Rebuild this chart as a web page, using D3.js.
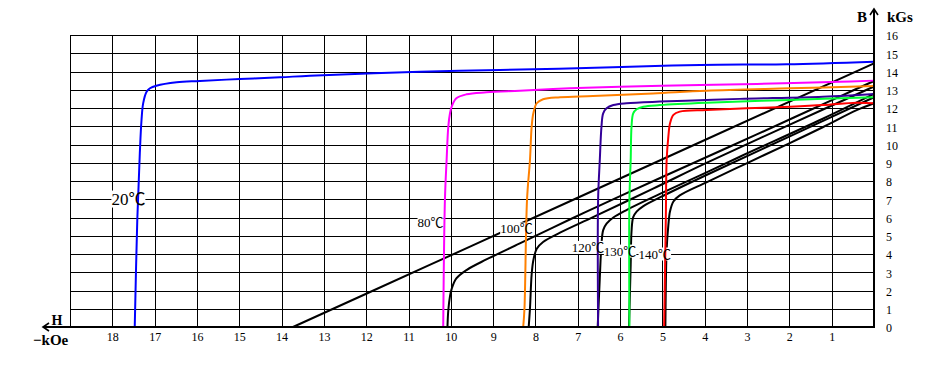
<!DOCTYPE html>
<html>
<head>
<meta charset="utf-8">
<script src="https://cdn.jsdelivr.net/npm/d3@7"></script>
<style>
  body { margin: 0; background: #fff; }
  svg { display: block; }
  .axis text { font-family: "Liberation Serif", serif; font-size: 12px; fill: #000; }
  .unit { font-family: "Liberation Serif", serif; font-weight: bold; font-size: 15px; }
  .temp-label { font-family: "Liberation Serif", "Noto Sans CJK SC", serif; fill: #000; }
</style>
</head>
<body>
<svg id="chart"></svg>
<script>
// Tick labels (H in kOe, measured leftwards; B in kGs)
const hTicks = [18, 17, 16, 15, 14, 13, 12, 11, 10, 9, 8, 7, 6, 5, 4, 3, 2, 1];
const bTicks = [0, 1, 2, 3, 4, 5, 6, 7, 8, 9, 10, 11, 12, 13, 14, 15, 16];

const temps = ['20℃', '80℃', '100℃', '120℃', '130℃', '140℃'];

// Intrinsic curves [H, B]
const intrinsic20 = [[17.47, 0], [17.41, 5.86], [17.35, 9.53], [17.31, 11.34], [17.27, 12.27], [17.19, 12.89],
  [17.11, 13.08], [16.96, 13.22], [16.48, 13.41], [15.93, 13.48], [14.99, 13.59], [14.04, 13.68],
  [13.33, 13.77], [10.73, 13.99], [8.84, 14.08], [6.17, 14.23], [4.11, 14.36], [2.06, 14.40], [0, 14.54]];
const intrinsic80 = [[10.18, 0], [10.14, 6.96], [10.10, 9.15], [10.06, 10.98], [10.02, 11.71], [9.98, 12.07],
  [9.87, 12.53], [9.63, 12.75], [9.16, 12.86], [8.37, 12.95], [7.19, 13.08], [6.0, 13.17], [4.11, 13.26],
  [2.77, 13.32], [0.80, 13.44], [0, 13.5]];
const intrinsic100 = [[8.29, 0], [8.26, 1.0], [8.20, 6.96], [8.13, 9.15], [8.09, 10.98], [8.05, 11.71], [7.97, 12.26],
  [7.82, 12.48], [7.42, 12.59], [6.64, 12.66], [5.22, 12.80], [3.96, 12.95], [1.99, 13.08], [0, 13.2]];
const intrinsic120 = [[6.52, 0], [6.52, 6.96], [6.48, 9.15], [6.44, 10.98], [6.40, 11.71], [6.32, 11.98], [6.16, 12.16],
  [5.85, 12.26], [5.06, 12.35], [4.11, 12.42], [3.17, 12.50], [1.21, 12.62], [0, 12.77]];
const intrinsic130 = [[5.78, 0], [5.78, 6.96], [5.75, 9.15], [5.73, 10.98], [5.69, 11.71], [5.61, 11.93], [5.45, 12.07],
  [5.06, 12.16], [3.96, 12.29], [1.99, 12.44], [0, 12.59]];
const intrinsic140 = [[4.96, 0], [4.92, 5.86], [4.90, 9.15], [4.86, 10.43], [4.82, 11.16], [4.74, 11.62], [4.59, 11.80],
  [3.96, 11.89], [3.01, 11.98], [1.99, 12.07], [1.20, 12.16], [0.41, 12.29], [0, 12.26]];

// Normal (B) curves [H, B]
const normal20 = [[13.73, 0], [10.5, 3.40], [7.12, 6.96], [0, 14.45]];
const normal80 = [[10.08, 0], [10.06, 0.92], [10.02, 1.69], [9.98, 2.09], [9.87, 2.66], [9.63, 3.12], [9.16, 3.70],
  [8.37, 4.58], [7.19, 5.89], [6.0, 7.17], [4.11, 9.15], [2.77, 10.55], [0.80, 12.64], [0, 13.48]];
const normal100 = [[8.16, 0], [8.13, 1.02], [8.09, 2.89], [8.05, 3.66], [7.97, 4.29], [7.82, 4.66], [7.42, 5.17],
  [6.64, 6.02], [5.22, 7.58], [3.96, 8.99], [1.99, 11.09], [0, 13.18]];
const normal120 = [[6.53, 0], [6.48, 2.67], [6.44, 4.54], [6.40, 5.31], [6.32, 5.66], [6.16, 6.0], [5.85, 6.41],
  [5.06, 7.29], [4.11, 8.31], [3.17, 9.33], [1.21, 11.41], [0, 12.77]];
const normal130 = [[5.79, 0], [5.75, 3.40], [5.73, 5.25], [5.69, 6.02], [5.61, 6.32], [5.45, 6.62], [5.06, 7.10],
  [3.96, 8.33], [1.99, 10.45], [0, 12.59]];
const normal140 = [[4.93, 0], [4.90, 4.25], [4.86, 5.57], [4.82, 6.34], [4.74, 6.88], [4.59, 7.21], [3.96, 7.93],
  [3.01, 8.97], [1.99, 10.08], [1.20, 10.96], [0.41, 11.88], [0, 12.26]];

// Where each temperature label sits, in data units [H, B]
const labelAnchors = [[17.62, 7.01], [10.48, 5.73], [8.45, 5.37], [6.76, 4.36], [6.0, 4.16], [5.18, 4.0]];

class DemagChart {

    constructor(_config) {
        this.config = {
            parentElement: _config.parentElement,
            containerWidth: _config.containerWidth || 950,
            containerHeight: _config.containerHeight || 378,
            plot: _config.plot || {left: 70, right: 874, top: 35, bottom: 327},
            colors: ['#0000ff', '#ff00ff', '#ff8000', '#330099', '#00ff33', '#ff0000'],
            labelSizes: [17, 13, 13, 13, 13, 13]
        };
        this.intrinsic = [intrinsic20, intrinsic80, intrinsic100, intrinsic120, intrinsic130, intrinsic140];
        this.normal = [normal20, normal80, normal100, normal120, normal130, normal140];
        this.initVis();
    }

    initVis() {
        let vis = this;
        const p = vis.config.plot;

        vis.xScale = d3.scaleLinear().domain([19, 0]).range([p.left, p.right]);
        vis.yScale = d3.scaleLinear().domain([0, 16]).range([p.bottom, p.top]);

        vis.svg = d3.select(vis.config.parentElement)
            .attr('width', vis.config.containerWidth)
            .attr('height', vis.config.containerHeight);

        vis.svg.append('rect')
            .attr('width', vis.config.containerWidth)
            .attr('height', vis.config.containerHeight)
            .attr('fill', '#fff');

        vis.gridG = vis.svg.append('g').attr('class', 'grid');
        vis.normalG = vis.svg.append('g');
        vis.labelBgG = vis.svg.append('g');
        vis.intrinsicG = vis.svg.append('g');
        vis.frameG = vis.svg.append('g');
        vis.labelG = vis.svg.append('g');

        vis.line = d3.line()
            .x(d => vis.xScale(d[0]))
            .y(d => vis.yScale(d[1]))
            .curve(d3.curveCatmullRom.alpha(0.5));

        vis.renderVis();
    }

    renderVis() {
        let vis = this;
        const p = vis.config.plot;

        // grid
        vis.gridG.selectAll('.vline')
            .data(hTicks.concat([19]))
            .join('line')
            .attr('class', 'vline')
            .attr('x1', d => Math.round(vis.xScale(d)) + 0.5)
            .attr('x2', d => Math.round(vis.xScale(d)) + 0.5)
            .attr('y1', p.top)
            .attr('y2', p.bottom)
            .attr('stroke', '#000')
            .attr('stroke-width', 1);

        vis.gridG.selectAll('.hline')
            .data(bTicks.slice(1))
            .join('line')
            .attr('class', 'hline')
            .attr('x1', p.left)
            .attr('x2', p.right)
            .attr('y1', d => Math.round(vis.yScale(d)) + 0.5)
            .attr('y2', d => Math.round(vis.yScale(d)) + 0.5)
            .attr('stroke', '#000')
            .attr('stroke-width', 1);

        // normal curves
        vis.normalG.selectAll('path')
            .data(vis.normal)
            .join('path')
            .attr('d', vis.line)
            .attr('fill', 'none')
            .attr('stroke', '#000')
            .attr('stroke-width', 2);

        // label text first so the white boxes can be sized from it
        const labels = vis.labelG.selectAll('text')
            .data(temps)
            .join('text')
            .attr('class', 'temp-label')
            .attr('x', (d, i) => vis.xScale(labelAnchors[i][0]))
            .attr('y', (d, i) => vis.yScale(labelAnchors[i][1]))
            .attr('text-anchor', 'middle')
            .attr('dominant-baseline', 'central')
            .style('font-size', (d, i) => vis.config.labelSizes[i] + 'px')
            .text(d => d);

        labels.each(function () {
            const b = this.getBBox();
            vis.labelBgG.append('rect')
                .attr('x', b.x)
                .attr('y', b.y + 1)
                .attr('width', b.width)
                .attr('height', b.height - 2)
                .attr('fill', '#fff');
        });

        // intrinsic curves
        vis.intrinsicG.selectAll('path')
            .data(vis.intrinsic)
            .join('path')
            .attr('d', vis.line)
            .attr('fill', 'none')
            .attr('stroke', (d, i) => vis.config.colors[i])
            .attr('stroke-width', 2);

        // axes
        const xAxis = d3.axisBottom(vis.xScale).tickValues(hTicks).tickSize(0).tickPadding(0);
        const xAxisG = vis.frameG.append('g')
            .attr('class', 'axis x-axis')
            .attr('transform', `translate(0,${p.bottom})`)
            .call(xAxis);
        xAxisG.select('.domain').remove();
        xAxisG.selectAll('text').attr('y', 10).attr('dy', '0.35em');

        const yAxis = d3.axisRight(vis.yScale).tickValues(bTicks).tickSize(0).tickPadding(12);
        const yAxisG = vis.frameG.append('g')
            .attr('class', 'axis y-axis')
            .attr('transform', `translate(${p.right},0)`)
            .call(yAxis);
        yAxisG.select('.domain').remove();
        yAxisG.selectAll('text').attr('dy', '0.4em');

        // frame: thin top/left, heavy bottom/right with arrows
        vis.frameG.append('line')
            .attr('x1', p.left + 0.5).attr('x2', p.left + 0.5)
            .attr('y1', p.top).attr('y2', p.bottom)
            .attr('stroke', '#000');
        vis.frameG.append('line')
            .attr('x1', p.left).attr('x2', p.right)
            .attr('y1', p.top + 0.5).attr('y2', p.top + 0.5)
            .attr('stroke', '#000');
        vis.frameG.append('line')
            .attr('x1', 43).attr('x2', p.right + 1)
            .attr('y1', p.bottom).attr('y2', p.bottom)
            .attr('stroke', '#000').attr('stroke-width', 2);
        vis.frameG.append('line')
            .attr('x1', p.right).attr('x2', p.right)
            .attr('y1', p.bottom + 1).attr('y2', 9)
            .attr('stroke', '#000').attr('stroke-width', 2);
        vis.frameG.append('path')
            .attr('d', `M${p.right - 4},15 L${p.right},9 L${p.right + 4},15`)
            .attr('fill', 'none').attr('stroke', '#000').attr('stroke-width', 1.6);
        vis.frameG.append('path')
            .attr('d', `M49,${p.bottom - 4} L43,${p.bottom} L49,${p.bottom + 4}`)
            .attr('fill', 'none').attr('stroke', '#000').attr('stroke-width', 1.6);

        // unit labels
        vis.frameG.append('text').attr('class', 'unit')
            .attr('x', 862).attr('y', 22).attr('text-anchor', 'middle').text('B');
        vis.frameG.append('text').attr('class', 'unit')
            .attr('x', 887).attr('y', 22).text('kGs');
        vis.frameG.append('text').attr('class', 'unit')
            .attr('x', 57).attr('y', 325).attr('text-anchor', 'middle').style('font-size', '14px').text('H');
        vis.frameG.append('text').attr('class', 'unit')
            .attr('x', 33).attr('y', 345).text('−kOe');
    }
}

new DemagChart({parentElement: '#chart'});
</script>
</body>
</html>
